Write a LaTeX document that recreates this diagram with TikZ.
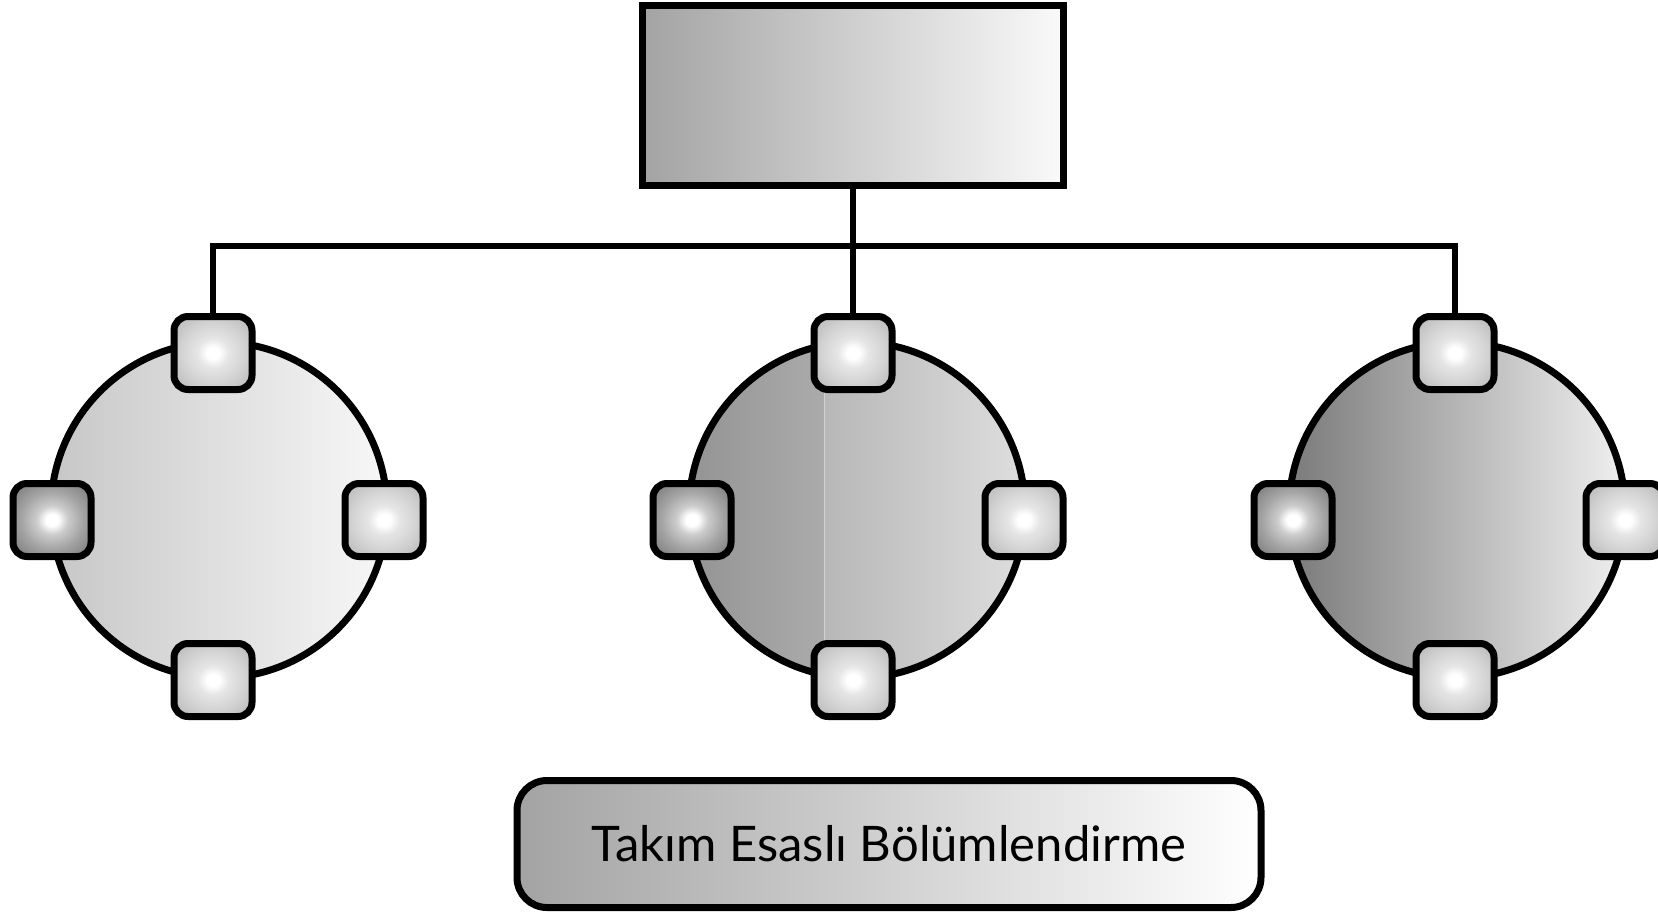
\documentclass[tikz,border=0pt]{standalone}
\usepackage{fontspec}
\setmainfont{Lato}
% soft radial glow for the member squares
\pgfdeclareradialshading{portglow}{\pgfpoint{0bp}{0bp}}{%
  color(0bp)=(white); color(4bp)=(white); color(10bp)=(black!10);
  color(20bp)=(black!17); color(30bp)=(black!25); color(40bp)=(black!30); color(50bp)=(black!33)}
\pgfdeclareradialshading{darkportglow}{\pgfpoint{0bp}{0bp}}{%
  color(0bp)=(white); color(4bp)=(white); color(10bp)=(black!20);
  color(20bp)=(black!36); color(30bp)=(black!48); color(40bp)=(black!56); color(50bp)=(black!62)}
\begin{document}
\begin{tikzpicture}[x=1pt,y=-1pt,
  edge/.style={line width=6.5pt},
  ring/.style={draw, line width=7pt},
  port/.style={draw, line width=7pt, rounded corners=14pt, minimum width=78pt,
    minimum height=73pt, inner sep=0pt, shading=portglow},
  darkport/.style={port, shading=darkportglow},
  headbox/.style={draw, line width=7pt, minimum width=421pt, minimum height=180pt,
    inner sep=0pt, left color=black!36, right color=black!2},
  labelbox/.style={draw, line width=7pt, rounded corners=30pt, minimum width=744pt,
    minimum height=127pt, inner sep=0pt, left color=black!36, right color=white}]
\useasboundingbox (0,0) rectangle (1658,911);

% head unit
\node[headbox] (top) at (853,95) {};
\coordinate (bus) at (853,246);

% team circles
\path[ring, left color=black!22, right color=black!3] (219,510) circle[radius=168];
\begin{scope}
  \clip (857,510) circle[radius=168];
  \shade[left color=black!42, right color=black!33] (689,342) rectangle (824,678);
  \shade[left color=black!28, right color=black!13] (824,342) rectangle (1025,678);
  \fill[black!18] (823.5,342) rectangle (825,678);
\end{scope}
\draw[line width=7pt] (857,510) circle[radius=168];
\path[ring, left color=black!52, right color=black!6] (1457,510) circle[radius=168];

% members of the first team
\node[port] (a1) at (213,353) {};
\node[darkport] (a2) at (52,520) {};
\node[port] (a3) at (384,520) {};
\node[port] (a4) at (213,680) {};

% members of the second team
\node[port] (b1) at (853,353) {};
\node[darkport] (b2) at (692,520) {};
\node[port] (b3) at (1024,520) {};
\node[port] (b4) at (853,680) {};

% members of the third team
\node[port] (c1) at (1455,353) {};
\node[darkport] (c2) at (1293,520) {};
\node[port] (c3) at (1625,520) {};
\node[port] (c4) at (1455,680) {};

% reporting lines
\draw[edge] (top.south) -- (b1.north);
\draw[edge] (a1.north) |- (bus) -| (c1.north);

% caption
\node[labelbox, font=\fontsize{49}{58}\selectfont] (cap) at (889,844) {Takım Esaslı Bölümlendirme};
\end{tikzpicture}
\end{document}
